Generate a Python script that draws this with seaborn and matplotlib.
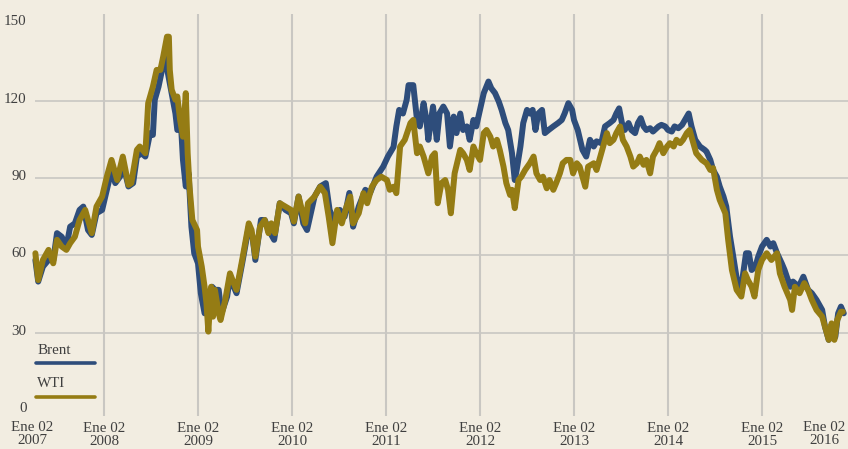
import matplotlib
matplotlib.use("Agg")
import matplotlib.pyplot as plt
import seaborn as sns
import pandas as pd
from matplotlib.transforms import ScaledTranslation

# ---------------- data (time in chart-years, price in USD/bbl) ----------------
brent_t = [2007.27, 2007.30, 2007.35, 2007.41, 2007.46, 2007.50, 2007.55, 2007.60, 2007.64, 2007.69,
           2007.74, 2007.78, 2007.83, 2007.87, 2007.92, 2007.98, 2008.03, 2008.08, 2008.12, 2008.17,
           2008.21, 2008.26, 2008.31, 2008.35, 2008.40, 2008.44, 2008.49, 2008.52, 2008.54, 2008.58,
           2008.61, 2008.65, 2008.67, 2008.68, 2008.72, 2008.76, 2008.78, 2008.82, 2008.84, 2008.87,
           2008.90, 2008.93, 2008.96, 2009.00, 2009.03, 2009.07, 2009.11, 2009.15, 2009.18, 2009.22,
           2009.25, 2009.31, 2009.34, 2009.38, 2009.41, 2009.47, 2009.54, 2009.58, 2009.61, 2009.67,
           2009.71, 2009.77, 2009.81, 2009.87, 2009.93, 2009.99, 2010.02, 2010.07, 2010.12, 2010.16,
           2010.24, 2010.30, 2010.36, 2010.40, 2010.46, 2010.51, 2010.56, 2010.61, 2010.65, 2010.71,
           2010.78, 2010.83, 2010.90, 2010.97, 2011.02, 2011.08, 2011.11, 2011.14, 2011.18, 2011.22,
           2011.24, 2011.29, 2011.33, 2011.36, 2011.40, 2011.43, 2011.45, 2011.50, 2011.54, 2011.57,
           2011.61, 2011.65, 2011.68, 2011.72, 2011.75, 2011.79, 2011.82, 2011.86, 2011.89, 2011.93,
           2011.96, 2012.00, 2012.04, 2012.09, 2012.12, 2012.16, 2012.20, 2012.23, 2012.27, 2012.30,
           2012.34, 2012.37, 2012.39, 2012.43, 2012.46, 2012.50, 2012.53, 2012.56, 2012.59, 2012.62,
           2012.66, 2012.69, 2012.73, 2012.78, 2012.83, 2012.87, 2012.90, 2012.94, 2012.98, 2013.00,
           2013.04, 2013.09, 2013.13, 2013.17, 2013.21, 2013.24, 2013.29, 2013.33, 2013.38, 2013.42,
           2013.45, 2013.48, 2013.51, 2013.54, 2013.58, 2013.61, 2013.65, 2013.68, 2013.71, 2013.74,
           2013.77, 2013.81, 2013.84, 2013.90, 2013.93, 2013.97, 2014.00, 2014.04, 2014.07, 2014.11,
           2014.15, 2014.18, 2014.22, 2014.25, 2014.29, 2014.34, 2014.39, 2014.41, 2014.45, 2014.48,
           2014.52, 2014.55, 2014.59, 2014.62, 2014.66, 2014.70, 2014.75, 2014.78, 2014.83, 2014.86,
           2014.89, 2014.93, 2014.96, 2015.00, 2015.05, 2015.09, 2015.12, 2015.16, 2015.21, 2015.24,
           2015.30, 2015.33, 2015.39, 2015.44, 2015.49, 2015.53, 2015.58, 2015.64, 2015.67, 2015.71,
           2015.74, 2015.78, 2015.81, 2015.84, 2015.87]
brent_v = [58.2, 49.8, 55.6, 58.2, 58.0, 68.6, 67.2, 63.4, 71.1, 72.4,
           77.6, 78.9, 69.8, 67.9, 76.3, 77.6, 85.4, 93.1, 88.0, 90.5,
           94.4, 86.7, 88.0, 98.3, 99.6, 98.3, 107.4, 106.7, 120.3, 125.4,
           130.6, 135.8, 142.3, 130.6, 122.9, 115.0, 108.6, 110.0, 97.0, 86.7,
           91.8, 71.1, 60.8, 56.9, 45.3, 37.5, 45.3, 47.8, 46.6, 46.6,
           37.5, 44.0, 51.7, 47.8, 45.3, 56.9, 71.1, 67.2, 58.2, 73.7,
           73.7, 68.6, 66.0, 80.2, 77.6, 76.3, 72.4, 82.8, 72.4, 69.8,
           82.8, 86.7, 88.0, 77.6, 72.4, 77.6, 75.0, 84.2, 71.1, 78.9,
           85.4, 84.1, 90.5, 94.4, 98.3, 102.0, 110.0, 116.4, 115.0, 120.3,
           126.0, 126.0, 112.5, 110.0, 119.0, 112.5, 104.8, 117.7, 104.8, 115.2,
           117.7, 115.0, 102.2, 113.8, 107.4, 115.0, 108.6, 110.0, 104.8, 112.5,
           110.0, 116.4, 122.9, 127.4, 124.8, 122.9, 119.6, 116.4, 111.3, 108.6,
           99.7, 89.2, 93.1, 102.2, 111.3, 116.4, 115.0, 116.4, 108.6, 115.0,
           116.4, 107.4, 108.6, 110.0, 111.3, 112.5, 115.0, 119.0, 116.4, 112.5,
           108.6, 100.9, 98.3, 104.8, 102.2, 104.2, 103.5, 110.0, 111.3, 112.5,
           115.0, 117.0, 111.3, 108.6, 111.3, 108.6, 107.4, 111.3, 113.2, 110.0,
           108.6, 109.3, 108.0, 110.0, 110.6, 110.0, 108.6, 108.0, 110.0, 109.3,
           110.6, 112.5, 115.0, 110.0, 104.8, 102.2, 100.9, 100.2, 97.0, 93.1,
           90.5, 86.7, 82.8, 78.9, 67.2, 58.2, 46.6, 47.8, 60.8, 60.8,
           54.3, 55.6, 59.5, 63.4, 66.0, 63.4, 64.7, 60.8, 56.9, 54.3,
           47.8, 49.8, 47.8, 51.7, 46.6, 45.3, 42.7, 38.8, 32.3, 27.2,
           32.3, 28.4, 37.5, 40.1, 37.5]

wti_t = [2007.27, 2007.30, 2007.35, 2007.41, 2007.46, 2007.50, 2007.55, 2007.60, 2007.64, 2007.69,
         2007.74, 2007.80, 2007.87, 2007.92, 2007.98, 2008.03, 2008.08, 2008.14, 2008.20, 2008.26,
         2008.29, 2008.35, 2008.38, 2008.44, 2008.47, 2008.52, 2008.56, 2008.60, 2008.63, 2008.67,
         2008.69, 2008.70, 2008.72, 2008.76, 2008.78, 2008.81, 2008.84, 2008.87, 2008.89, 2008.91,
         2008.94, 2008.99, 2009.00, 2009.04, 2009.07, 2009.09, 2009.11, 2009.14, 2009.16, 2009.18,
         2009.22, 2009.24, 2009.29, 2009.34, 2009.38, 2009.41, 2009.47, 2009.54, 2009.57, 2009.61,
         2009.66, 2009.71, 2009.75, 2009.78, 2009.82, 2009.87, 2009.93, 2009.99, 2010.02, 2010.07,
         2010.14, 2010.17, 2010.24, 2010.30, 2010.35, 2010.39, 2010.43, 2010.48, 2010.53, 2010.58,
         2010.62, 2010.65, 2010.71, 2010.76, 2010.80, 2010.85, 2010.90, 2010.95, 2011.01, 2011.04,
         2011.08, 2011.11, 2011.15, 2011.20, 2011.26, 2011.29, 2011.33, 2011.36, 2011.40, 2011.45,
         2011.49, 2011.52, 2011.55, 2011.59, 2011.63, 2011.66, 2011.69, 2011.73, 2011.79, 2011.82,
         2011.86, 2011.89, 2011.93, 2011.96, 2012.00, 2012.04, 2012.07, 2012.11, 2012.14, 2012.18,
         2012.21, 2012.25, 2012.28, 2012.32, 2012.34, 2012.37, 2012.41, 2012.44, 2012.48, 2012.53,
         2012.57, 2012.60, 2012.64, 2012.67, 2012.71, 2012.74, 2012.78, 2012.81, 2012.85, 2012.88,
         2012.92, 2012.96, 2012.99, 2013.03, 2013.06, 2013.12, 2013.15, 2013.21, 2013.24, 2013.28,
         2013.31, 2013.35, 2013.38, 2013.42, 2013.45, 2013.49, 2013.52, 2013.56, 2013.60, 2013.63,
         2013.67, 2013.70, 2013.74, 2013.77, 2013.81, 2013.84, 2013.88, 2013.91, 2013.95, 2013.99,
         2014.02, 2014.06, 2014.09, 2014.13, 2014.16, 2014.20, 2014.23, 2014.27, 2014.30, 2014.36,
         2014.41, 2014.45, 2014.48, 2014.52, 2014.55, 2014.61, 2014.64, 2014.68, 2014.73, 2014.78,
         2014.82, 2014.85, 2014.89, 2014.92, 2014.96, 2015.00, 2015.05, 2015.10, 2015.16, 2015.19,
         2015.24, 2015.30, 2015.32, 2015.35, 2015.40, 2015.45, 2015.49, 2015.53, 2015.58, 2015.64,
         2015.67, 2015.71, 2015.74, 2015.77, 2015.80, 2015.84, 2015.86]
wti_v = [60.8, 50.4, 58.2, 62.1, 56.9, 66.0, 63.4, 62.1, 64.7, 67.2,
         73.7, 77.6, 68.6, 78.9, 82.8, 90.5, 97.0, 89.2, 98.3, 87.3,
         88.0, 100.9, 102.2, 99.6, 119.0, 125.4, 131.9, 131.9, 137.1, 144.8,
         144.8, 131.9, 124.2, 120.3, 121.6, 112.5, 106.0, 122.9, 99.6, 86.6,
         73.7, 69.8, 63.4, 55.6, 47.8, 41.4, 30.4, 47.8, 36.2, 46.6,
         37.5, 34.9, 42.7, 53.0, 49.2, 46.6, 58.2, 72.4, 69.8, 59.5,
         71.1, 73.7, 68.6, 72.4, 68.6, 80.2, 78.9, 77.6, 73.1, 82.8,
         72.4, 80.2, 82.8, 86.6, 84.1, 75.0, 64.7, 77.6, 72.4, 78.9,
         82.8, 72.4, 76.3, 84.1, 80.2, 86.6, 89.2, 90.5, 89.2, 85.4,
         86.6, 84.1, 102.2, 104.8, 111.3, 112.5, 99.6, 102.2, 98.3, 91.8,
         98.3, 99.6, 80.2, 88.0, 89.2, 85.4, 76.3, 91.8, 100.9, 99.6,
         97.0, 93.1, 102.2, 99.6, 97.0, 107.4, 108.6, 106.0, 102.2, 104.8,
         100.9, 94.4, 88.0, 83.4, 85.4, 78.3, 89.2, 90.5, 93.1, 95.7,
         98.3, 91.8, 89.2, 90.5, 86.0, 89.2, 85.4, 88.0, 91.8, 95.7,
         97.0, 97.0, 91.8, 95.7, 94.4, 86.6, 94.4, 95.7, 93.1, 98.3,
         102.2, 107.4, 103.5, 104.8, 107.4, 110.0, 104.8, 102.2, 98.3, 94.4,
         95.7, 98.3, 95.1, 97.0, 91.8, 98.3, 100.9, 103.5, 99.6, 102.2,
         103.5, 102.2, 104.8, 103.5, 104.8, 107.4, 108.6, 103.5, 99.6, 97.0,
         95.7, 93.1, 93.8, 85.4, 81.5, 76.3, 66.0, 54.3, 46.6, 44.0,
         53.0, 50.4, 47.8, 44.0, 54.3, 58.2, 60.8, 58.2, 60.8, 53.0,
         47.8, 42.7, 38.8, 47.8, 45.3, 49.2, 46.6, 42.7, 38.8, 36.2,
         32.3, 27.2, 33.6, 27.2, 34.9, 38.1, 38.1]

series_names = ["Brent", "WTI"]
grid_years = [2008, 2009, 2010, 2011, 2012, 2013, 2014, 2015]
label_years = [2007, 2008, 2009, 2010, 2011, 2012, 2013, 2014, 2015, 2016]
tick_prefix = "Ene 02"
y_ticks = [0, 30, 60, 90, 120, 150]
y_grid = [30, 60, 90, 120]

# ---------------- style ----------------
BG = "#f2ede1"
GRID = "#c9c7c2"
TXT = "#3f3f3f"
COLORS = {"Brent": "#2e4d7b", "WTI": "#957c14"}
FS = 10.8

sns.set_style("white")
plt.rcParams["font.family"] = ["Liberation Serif", "DejaVu Serif"]
plt.rcParams["font.size"] = FS

df = pd.concat([
    pd.DataFrame({"t": brent_t, "precio": brent_v, "serie": "Brent"}),
    pd.DataFrame({"t": wti_t, "precio": wti_v, "serie": "WTI"}),
], ignore_index=True)

fig = plt.figure(figsize=(8.48, 4.49), dpi=100, facecolor=BG)
ax = fig.add_axes([35 / 848, 33 / 449, 813 / 848, 402 / 449])
ax.set_facecolor(BG)

for y in y_grid:
    ax.axhline(y, color=GRID, lw=1.2, zorder=0)
for x in grid_years:
    ax.axvline(x, color=GRID, lw=1.5, zorder=0)

sns.lineplot(data=df, x="t", y="precio", hue="serie", hue_order=series_names,
             palette=COLORS, estimator=None, sort=True, linewidth=4.3,
             legend=False, ax=ax, solid_capstyle="round", solid_joinstyle="round",
             clip_on=False, zorder=3)

x_left = 2008 - 69 / 94
x_right = 2008 + 744 / 94
ax.set_xlim(x_left, x_right)
ax.set_ylim(-2.33, 153.6)

for s in ax.spines.values():
    s.set_visible(False)

ax.set_xticks(grid_years)
ax.set_xticklabels([f"{tick_prefix}\n{y}" for y in grid_years], color=TXT, fontsize=FS,
                   linespacing=1.05)
ax.tick_params(axis="x", length=0, pad=4)
# end labels (no gridline)
for xpos, yr in [(2008 - 72 / 94, label_years[0]), (2008 + 720 / 94, label_years[-1])]:
    ax.annotate(f"{tick_prefix}\n{yr}", xy=(xpos, 0), xycoords=("data", "axes fraction"),
                xytext=(0, -5), textcoords="offset pixels", ha="center", va="top",
                color=TXT, fontsize=FS, linespacing=1.05, annotation_clip=False)

ax.set_yticks(y_ticks)
ax.set_yticklabels([str(v) for v in y_ticks], color=TXT, fontsize=FS)
ax.tick_params(axis="y", length=0, pad=6)
for lab in ax.get_yticklabels():
    lab.set_transform(lab.get_transform() + ScaledTranslation(0, 3 / 100, fig.dpi_scale_trans))

ax.set_xlabel("")
ax.set_ylabel("")

# legend (label above line sample)
for name, ty, ly in [("Brent", 0.164, 0.133), ("WTI", 0.080, 0.048)]:
    ax.text(0.0025, ty, name, transform=ax.transAxes, ha="left", va="center",
            color=TXT, fontsize=FS)
    ax.plot([0.0015, 0.0740], [ly, ly], transform=ax.transAxes, color=COLORS[name],
            lw=2.6, solid_capstyle="round", clip_on=False, zorder=4)

fig.savefig("out.png", dpi=100, facecolor=BG)
